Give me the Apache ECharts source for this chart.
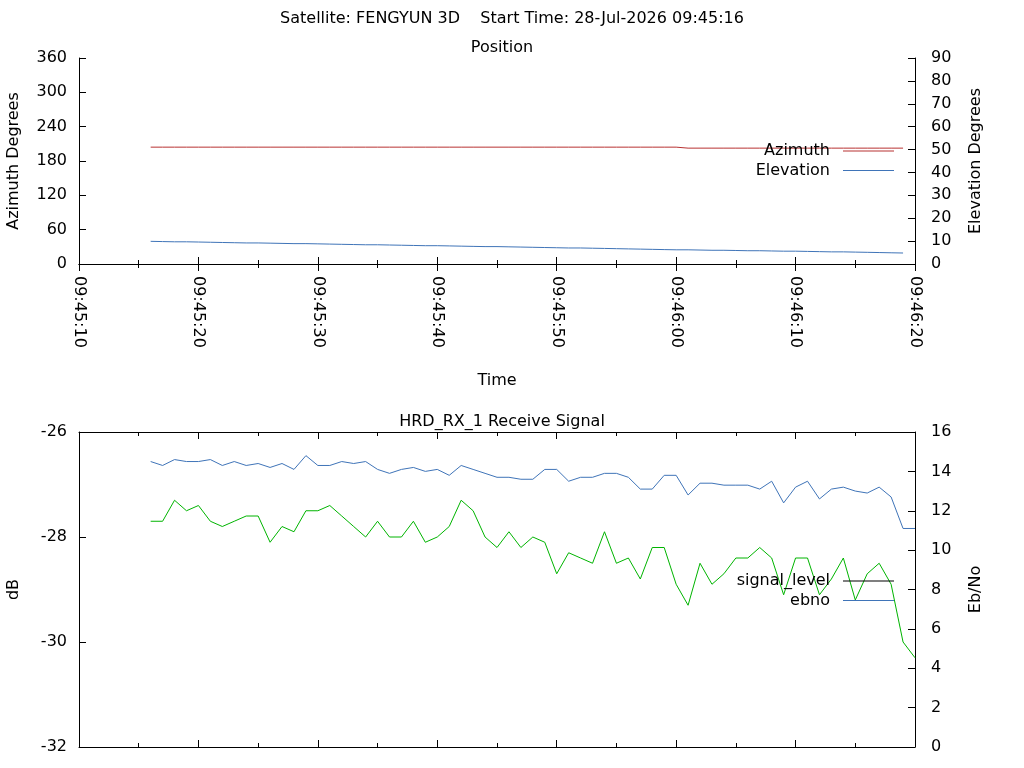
<!DOCTYPE html>
<html>
<head>
<meta charset="utf-8">
<title>FENGYUN 3D pass</title>
<script src="https://cdn.jsdelivr.net/npm/echarts@6/dist/echarts.min.js"></script>
<style>
  html, body { margin: 0; padding: 0; background: #fff; }
  #main { width: 1024px; height: 768px; }
</style>
</head>
<body>
<div id="main"></div>
<script>
'use strict';

// sample times, one per second
var sampleTimes = [
    '09:45:16', '09:45:17', '09:45:18', '09:45:19', '09:45:20', '09:45:21', '09:45:22', '09:45:23',
    '09:45:24', '09:45:25', '09:45:26', '09:45:27', '09:45:28', '09:45:29', '09:45:30', '09:45:31',
    '09:45:32', '09:45:33', '09:45:34', '09:45:35', '09:45:36', '09:45:37', '09:45:38', '09:45:39',
    '09:45:40', '09:45:41', '09:45:42', '09:45:43', '09:45:44', '09:45:45', '09:45:46', '09:45:47',
    '09:45:48', '09:45:49', '09:45:50', '09:45:51', '09:45:52', '09:45:53', '09:45:54', '09:45:55',
    '09:45:56', '09:45:57', '09:45:58', '09:45:59', '09:46:00', '09:46:01', '09:46:02', '09:46:03',
    '09:46:04', '09:46:05', '09:46:06', '09:46:07', '09:46:08', '09:46:09', '09:46:10', '09:46:11',
    '09:46:12', '09:46:13', '09:46:14', '09:46:15', '09:46:16', '09:46:17', '09:46:18', '09:46:19',
    '09:46:20'
];

var timeTicks = ['09:45:10', '09:45:20', '09:45:30', '09:45:40', '09:45:50', '09:46:00', '09:46:10', '09:46:20'];

// position (to 09:46:19)
var azimuth = [
    204.2, 204.2, 204.2, 204.2, 204.2, 204.2, 204.2, 204.2, 204.2, 204.2,
    204.2, 204.2, 204.2, 204.2, 204.2, 204.2, 204.2, 204.2, 204.2, 204.2,
    204.2, 204.2, 204.2, 204.2, 204.2, 204.2, 204.2, 204.2, 204.2, 204.2,
    204.2, 204.2, 204.2, 204.2, 204.2, 204.2, 204.2, 204.2, 204.2, 204.2,
    204.2, 204.2, 204.2, 204.2, 204.2, 202.5, 202.5, 202.5, 202.5, 202.5,
    202.5, 202.5, 202.5, 202.5, 202.5, 202.5, 202.5, 202.5, 202.5, 202.5,
    202.5, 202.5, 202.5, 202.5
];
var elevation = [
    9.9, 9.8, 9.7, 9.7, 9.6, 9.5, 9.4, 9.3, 9.2, 9.2,
    9.1, 9.0, 8.9, 8.9, 8.8, 8.7, 8.6, 8.5, 8.4, 8.4,
    8.3, 8.2, 8.1, 8.0, 8.0, 7.9, 7.8, 7.7, 7.6, 7.6,
    7.5, 7.4, 7.3, 7.2, 7.1, 7.0, 7.0, 6.9, 6.8, 6.7,
    6.6, 6.5, 6.4, 6.3, 6.2, 6.2, 6.1, 6.0, 6.0, 5.9,
    5.8, 5.8, 5.7, 5.6, 5.6, 5.5, 5.4, 5.3, 5.3, 5.2,
    5.1, 5.0, 4.9, 4.8
];

// receive signal (to 09:46:20)
var signalLevel = [
    -27.7, -27.7, -27.3, -27.5, -27.4, -27.7, -27.8, -27.7, -27.6, -27.6,
    -28.1, -27.8, -27.9, -27.5, -27.5, -27.4, -27.6, -27.8, -28.0, -27.7,
    -28.0, -28.0, -27.7, -28.1, -28.0, -27.8, -27.3, -27.5, -28.0, -28.2,
    -27.9, -28.2, -28.0, -28.1, -28.7, -28.3, -28.4, -28.5, -27.9, -28.5,
    -28.4, -28.8, -28.2, -28.2, -28.9, -29.3, -28.5, -28.9, -28.7, -28.4,
    -28.4, -28.2, -28.4, -29.1, -28.4, -28.4, -29.1, -28.8, -28.4, -29.2,
    -28.7, -28.5, -28.9, -30.0, -30.3
];
var ebno = [
    14.5, 14.3, 14.6, 14.5, 14.5, 14.6, 14.3, 14.5, 14.3, 14.4,
    14.2, 14.4, 14.1, 14.8, 14.3, 14.3, 14.5, 14.4, 14.5, 14.1,
    13.9, 14.1, 14.2, 14.0, 14.1, 13.8, 14.3, 14.1, 13.9, 13.7,
    13.7, 13.6, 13.6, 14.1, 14.1, 13.5, 13.7, 13.7, 13.9, 13.9,
    13.7, 13.1, 13.1, 13.8, 13.8, 12.8, 13.4, 13.4, 13.3, 13.3,
    13.3, 13.1, 13.5, 12.4, 13.2, 13.5, 12.6, 13.1, 13.2, 13.0,
    12.9, 13.2, 12.7, 11.1, 11.1
];

var FONT = 'DejaVu Sans';
var TXT = { fontFamily: FONT, fontSize: 16, color: '#000' };
var RED = '#b83232';
var BLUE = '#3f74b8';
var GREEN = '#00b400';

function secs(t) {
    var p = t.split(':');
    return (+p[0]) * 3600 + (+p[1]) * 60 + (+p[2]);
}
var t0 = secs(timeTicks[0]);

function pairs(values) {
    return values.map(function(v, i) {
        return [secs(sampleTimes[i]) - t0, v];
    });
}

function timeAxis(gridIndex, onTop, withLabels) {
    return {
        type: 'value',
        gridIndex: gridIndex,
        position: onTop ? 'top' : 'bottom',
        min: 0,
        max: 70,
        interval: 10,
        name: withLabels ? 'Time' : '',
        nameLocation: 'middle',
        nameGap: 109,
        nameTextStyle: TXT,
        axisLine: { show: true, lineStyle: { color: '#000', width: 1 } },
        axisTick: { show: true, inside: true, length: 7, lineStyle: { color: '#000' } },
        minorTick: { show: true, splitNumber: 2, length: 4, lineStyle: { color: '#000' } },
        splitLine: { show: false },
        axisLabel: {
            show: withLabels,
            rotate: -90,
            margin: 12,
            fontFamily: FONT,
            fontSize: 16,
            color: '#000',
            formatter: function(v) { return timeTicks[Math.round(v / 10)]; }
        }
    };
}

function valueAxis(gridIndex, onRight, min, max, interval, name) {
    return {
        type: 'value',
        gridIndex: gridIndex,
        position: onRight ? 'right' : 'left',
        min: min,
        max: max,
        interval: interval,
        name: name,
        nameLocation: 'middle',
        nameRotate: 90,
        nameGap: onRight ? 53 : 57,
        nameTextStyle: TXT,
        axisLine: { show: true, onZero: false, lineStyle: { color: '#000', width: 1 } },
        axisTick: { show: true, inside: true, length: 7, lineStyle: { color: '#000' } },
        splitLine: { show: false },
        axisLabel: {
            margin: onRight ? 16 : 12,
            fontFamily: FONT,
            fontSize: 16,
            color: '#000'
        }
    };
}

function legendBox(top, items) {
    return {
        orient: 'vertical',
        right: 125,
        top: top,
        align: 'right',
        icon: 'rect',
        itemWidth: 51,
        itemHeight: 1,
        itemGap: 3.5,
        selectedMode: false,
        textStyle: { fontFamily: FONT, fontSize: 16, color: '#000', padding: [0, 8, 0, 0] },
        data: items
    };
}

var chart = echarts.init(document.getElementById('main'), null, { renderer: 'canvas' });

chart.setOption({
    animation: false,
    backgroundColor: '#fff',
    title: [
        { text: 'Satellite: FENGYUN 3D    Start Time: 28-Jul-2026 09:45:16', left: 'center', top: 6, textStyle: { fontFamily: FONT, fontSize: 16, fontWeight: 'normal', color: '#000' } },
        { text: 'Position', left: 497, top: 35, textAlign: 'center', textStyle: { fontFamily: FONT, fontSize: 16, fontWeight: 'normal', color: '#000' } },
        { text: 'HRD_RX_1 Receive Signal', left: 497, top: 409, textAlign: 'center', textStyle: { fontFamily: FONT, fontSize: 16, fontWeight: 'normal', color: '#000' } }
    ],
    legend: [
        legendBox(138, ['Azimuth', 'Elevation']),
        legendBox(568, [{ name: 'signal_level', itemStyle: { color: '#000' } }, 'ebno'])
    ],
    grid: [
        { left: 79, top: 58, width: 836, height: 206, containLabel: false, outerBoundsMode: 'none' },
        { left: 79, top: 432, width: 836, height: 315, containLabel: false, outerBoundsMode: 'none' }
    ],
    xAxis: [
        timeAxis(0, false, true),
        timeAxis(0, true, false),
        timeAxis(1, false, false),
        timeAxis(1, true, false)
    ],
    yAxis: [
        valueAxis(0, false, 0, 360, 60, 'Azimuth Degrees'),
        valueAxis(0, true, 0, 90, 10, 'Elevation Degrees'),
        valueAxis(1, false, -32, -26, 2, 'dB'),
        valueAxis(1, true, 0, 16, 2, 'Eb/No')
    ],
    series: [
        {
            name: 'Azimuth', type: 'line', xAxisIndex: 0, yAxisIndex: 0,
            data: pairs(azimuth), showSymbol: false, symbol: 'none',
            lineStyle: { color: RED, width: 1 }, itemStyle: { color: RED }
        },
        {
            name: 'Elevation', type: 'line', xAxisIndex: 0, yAxisIndex: 1,
            data: pairs(elevation), showSymbol: false, symbol: 'none',
            lineStyle: { color: BLUE, width: 1 }, itemStyle: { color: BLUE }
        },
        {
            name: 'signal_level', type: 'line', xAxisIndex: 2, yAxisIndex: 2,
            data: pairs(signalLevel), showSymbol: false, symbol: 'none',
            lineStyle: { color: GREEN, width: 1 }, itemStyle: { color: GREEN }
        },
        {
            name: 'ebno', type: 'line', xAxisIndex: 2, yAxisIndex: 3,
            data: pairs(ebno), showSymbol: false, symbol: 'none',
            lineStyle: { color: BLUE, width: 1 }, itemStyle: { color: BLUE }
        }
    ]
});
</script>
</body>
</html>
